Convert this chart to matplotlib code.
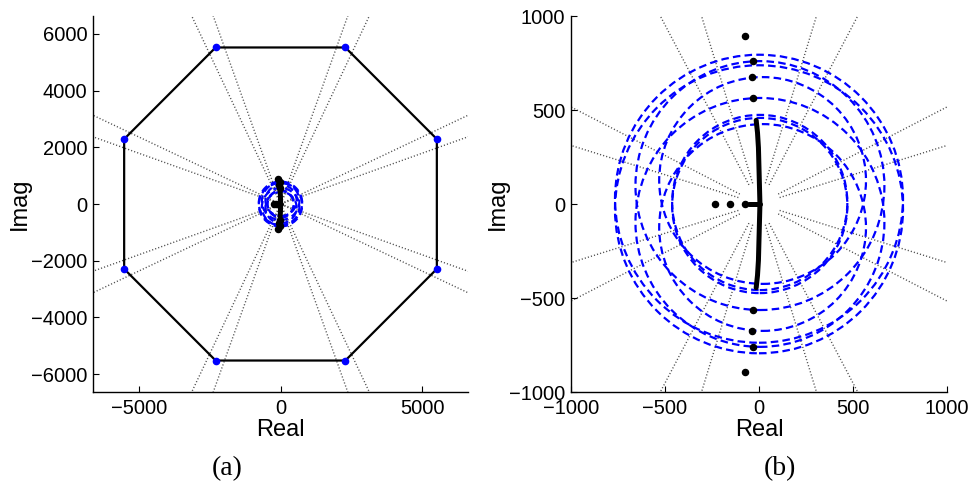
#!/usr/bin/env python3
"""Pole region plot: octagon region (a) and zoom on the closed-loop loci (b)."""

import matplotlib

matplotlib.use("Agg")
import matplotlib.pyplot as plt
import numpy as np
from matplotlib.patches import Circle

# octagon vertices (blue dots), counter-clockwise
OCT_RE = [5520, 2290, -2290, -5520, -5520, -2290, 2290, 5520]
OCT_IM = [2290, 5520, 5520, 2290, -2290, -5520, -5520, -2290]

# dashed loci, read as circles: centre real, centre imag, radius
LOCUS_RE = [0, 0, 5, 5, 19, 19, 4, 4]
LOCUS_IM = [28, -28, 98, -98, 125, -125, 8, -8]
LOCUS_R = [766, 766, 662, 662, 550, 550, 466, 466]

# thick black branch near the imaginary axis
BRANCH_RE = [-15, -8, -3, 1, 5, 1, -3, -8, -15]
BRANCH_IM = [445, 380, 300, 150, 0, -150, -300, -380, -445]
STUB_RE = [-55, 5]
STUB_IM = [0, 0]

# isolated black poles
POLE_RE = [-77, -31, -36, -31, -233, -154, -74, -31, -36, -31, -77]
POLE_IM = [892, 759, 674, 564, 0, 0, 0, -564, -674, -759, -892]

# dotted guide lines (angle from real axis, degrees)
GUIDE_A = [19.7, 25.3, 64.7, 70.3]
GUIDE_B = [17.3, 27.3, 62.3, 73.0]

TICK_FONT = "Liberation Sans"
CAPTION_FONT = "Liberation Serif"


def draw_guides(ax, angles, r0, r1):
    for ang in angles:
        for sgn in (1, -1):
            t = np.deg2rad(sgn * ang)
            for side in (1, -1):
                xs = [side * r0 * np.cos(t), side * r1 * np.cos(t)]
                ys = [side * r0 * np.sin(t), side * r1 * np.sin(t)]
                ax.plot(xs, ys, color="0.3", linestyle=(0, (0.8, 1.5)), linewidth=1.0, zorder=1)


def draw_loci(ax):
    for cx, cy, r in zip(LOCUS_RE, LOCUS_IM, LOCUS_R):
        ax.add_patch(Circle((cx, cy), r, fill=False, edgecolor="#0000ff", linewidth=1.6,
                            linestyle=(0, (3.4, 1.9)), zorder=3))
    ax.plot(BRANCH_RE, BRANCH_IM, color="black", linewidth=3.6, solid_capstyle="round", zorder=4)
    ax.plot(STUB_RE, STUB_IM, color="black", linewidth=3.6, solid_capstyle="round", zorder=4)
    ax.plot(POLE_RE, POLE_IM, "o", color="black", markersize=4.4, linestyle="none", zorder=5)


def style_axes(ax, xticks, yticks):
    ax.set_xticks(xticks)
    ax.set_yticks(yticks)
    ax.spines["top"].set_visible(False)
    ax.spines["right"].set_visible(False)
    for side in ("left", "bottom"):
        ax.spines[side].set_linewidth(1.0)
    ax.tick_params(direction="in", length=4, width=0.8, labelsize=14.5)
    ax.tick_params(axis="x", pad=5)
    ax.tick_params(axis="y", pad=4)
    for lab in ax.get_xticklabels() + ax.get_yticklabels():
        lab.set_family(TICK_FONT)
    ax.set_xlabel("Real", fontsize=17, family=TICK_FONT)
    ax.set_ylabel("Imag", fontsize=17, family=TICK_FONT)
    ax.xaxis.set_label_coords(0.5, -0.071)
    ax.yaxis.set_label_coords(-0.166, 0.5)


def main():
    fig = plt.figure(figsize=(9.69, 4.82), dpi=100)
    W, H = 969, 482

    ax_a = fig.add_axes([93 / W, (H - 392) / H, 375 / W, 376 / H])
    ax_b = fig.add_axes([571 / W, (H - 392) / H, 376 / W, 376 / H])

    # (a) full view
    draw_guides(ax_a, GUIDE_A, 150, 12000)
    ax_a.plot(OCT_RE + OCT_RE[:1], OCT_IM + OCT_IM[:1], color="black", linewidth=1.6, zorder=2)
    ax_a.plot(OCT_RE, OCT_IM, "o", color="#0000ff", markersize=4.5, linestyle="none", zorder=6)
    draw_loci(ax_a)
    ax_a.set_xlim(-6620, 6620)
    ax_a.set_ylim(-6630, 6630)
    style_axes(ax_a, [-5000, 0, 5000], [-6000, -4000, -2000, 0, 2000, 4000, 6000])

    # (b) zoom on the origin
    draw_guides(ax_b, GUIDE_B, 115, 2000)
    draw_loci(ax_b)
    ax_b.set_xlim(-1000, 1000)
    ax_b.set_ylim(-1000, 1000)
    style_axes(ax_b, [-1000, -500, 0, 500, 1000], [-1000, -500, 0, 500, 1000])

    fig.text(227 / W, 1 - 469 / H, "(a)", ha="center", va="center", fontsize=20, family=CAPTION_FONT)
    fig.text(780 / W, 1 - 469 / H, "(b)", ha="center", va="center", fontsize=20, family=CAPTION_FONT)

    fig.savefig("out.png", dpi=100)
    plt.close(fig)


if __name__ == "__main__":
    main()
